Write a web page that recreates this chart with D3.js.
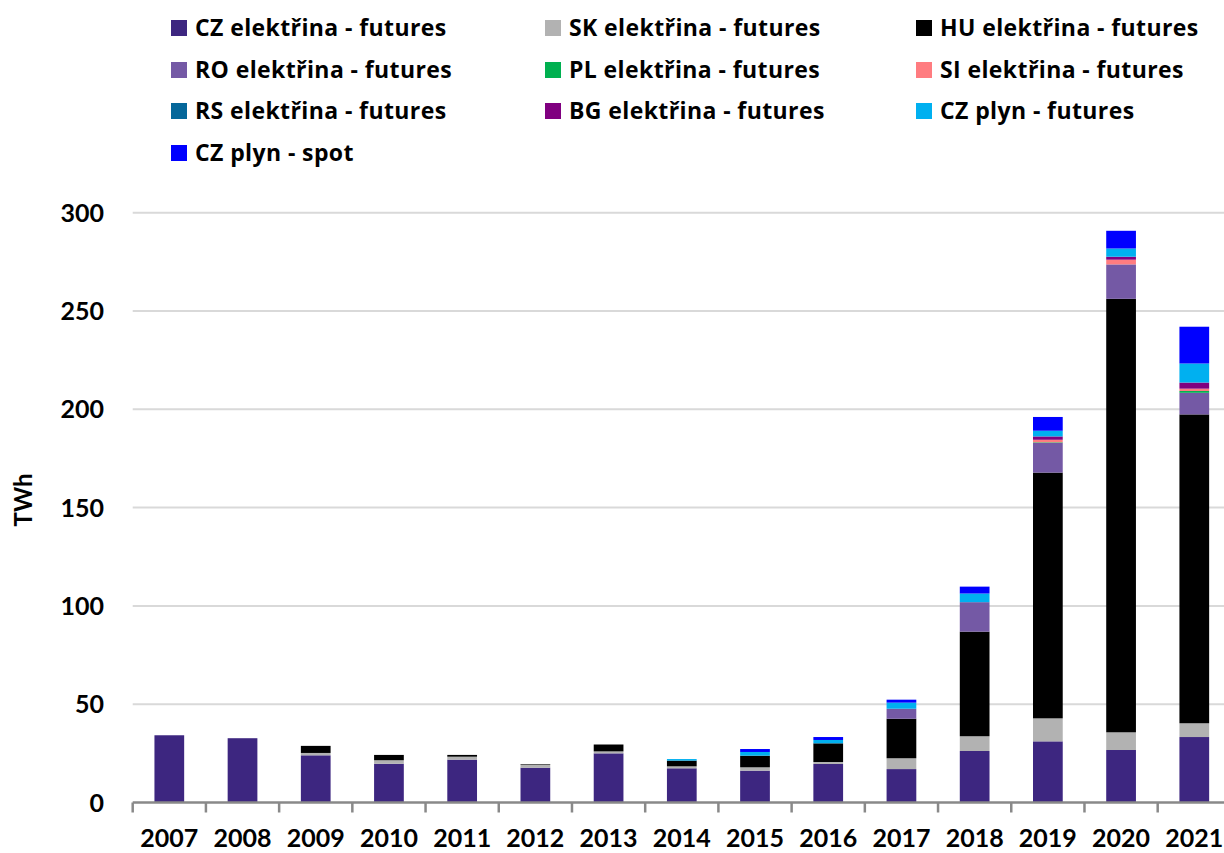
<!DOCTYPE html>
<html>
<head>
<meta charset="utf-8">
<script src="https://cdn.jsdelivr.net/npm/d3@7"></script>
<style>
  body { margin: 0; background: #fff; }
  svg { display: block; font-family: Lato, "Open Sans", sans-serif; font-weight: bold; }
</style>
</head>
<body>
<svg id="chart" width="1224" height="853"></svg>
<script>
// years on the x axis
const years = ["2007","2008","2009","2010","2011","2012","2013","2014","2015","2016","2017","2018","2019","2020","2021"];

// series, bottom of the stack first (TWh)
const seriesNames = [
  "CZ elektřina - futures", "SK elektřina - futures", "HU elektřina - futures",
  "RO elektřina - futures", "PL elektřina - futures", "SI elektřina - futures",
  "RS elektřina - futures", "BG elektřina - futures", "CZ plyn - futures",
  "CZ plyn - spot"
];
const seriesColors = ["#3d2680", "#b2b2b2", "#000000", "#7459a5", "#00b050", "#ff7c80", "#05679a", "#800080", "#00b0f0", "#0000ff"];

const czEl   = [34.2, 32.7, 24.0, 19.7, 21.8, 17.7, 25.0, 17.4, 16.2, 19.6, 17.0, 26.2, 31.1, 26.7, 33.3];
const skEl   = [0, 0, 1.2, 1.8, 1.5, 1.5, 1.0, 1.0, 1.7, 1.0, 5.5, 7.5, 11.7, 9.0, 7.0];
const huEl   = [0, 0, 3.6, 2.7, 0.9, 0.3, 3.5, 2.9, 5.9, 9.5, 20.1, 53.2, 125.0, 220.5, 157.1];
const roEl   = [0, 0, 0, 0, 0, 0, 0, 0, 0, 0, 5.1, 15.0, 15.1, 17.5, 11.0];
const plEl   = [0, 0, 0, 0, 0, 0, 0, 0, 0, 0, 0, 0, 0.3, 0, 0.9];
const siEl   = [0, 0, 0, 0, 0, 0, 0, 0, 0, 0, 0, 0, 1.3, 2.4, 1.2];
const rsEl   = [0, 0, 0, 0, 0, 0, 0, 0, 0, 0, 0, 0, 0, 0, 0];
const bgEl   = [0, 0, 0, 0, 0, 0, 0, 0, 0, 0, 0, 0, 1.7, 1.5, 3.1];
const czGasF = [0, 0, 0, 0, 0, 0, 0, 0.8, 1.9, 1.7, 3.1, 4.4, 2.9, 4.2, 9.7];
const czGasS = [0, 0, 0, 0, 0, 0, 0, 0, 1.5, 1.5, 1.5, 3.5, 7.0, 9.0, 18.7];

const yTicks = [0, 50, 100, 150, 200, 250, 300];

const seriesValues = [czEl, skEl, huEl, roEl, plEl, siEl, rsEl, bgEl, czGasF, czGasS];

// build table for d3.stack
const table = years.map((y, i) => {
  const row = {year: y};
  seriesNames.forEach((s, j) => row[s] = seriesValues[j][i]);
  return row;
});

const svg = d3.select("#chart");
const W = 1224;

const x = d3.scaleBand()
  .domain(years)
  .range([132.7, 1230.9])
  .padding(0);
const barW = x.bandwidth() * 0.406;

const y = d3.scaleLinear()
  .domain([0, 300])
  .range([802.5, 212.7]);

// gridlines
svg.append("g")
  .selectAll("line")
  .data(yTicks.filter(d => d > 0))
  .join("line")
  .attr("x1", 132.7)
  .attr("x2", W)
  .attr("y1", d => y(d))
  .attr("y2", d => y(d))
  .attr("stroke", "#d9d9d9")
  .attr("stroke-width", 2);

// stacked bars
const stack = d3.stack().keys(seriesNames)(table);
svg.append("g")
  .selectAll("g")
  .data(stack)
  .join("g")
  .attr("fill", (d, i) => seriesColors[i])
  .selectAll("rect")
  .data(d => d)
  .join("rect")
  .attr("x", d => x(d.data.year) + (x.bandwidth() - barW) / 2)
  .attr("width", barW)
  .attr("y", d => y(d[1]))
  .attr("height", d => y(d[0]) - y(d[1]));

// x axis line and ticks (ticks between categories)
const axisG = svg.append("g");
axisG.append("line")
  .attr("x1", 132.7).attr("x2", W)
  .attr("y1", y(0)).attr("y2", y(0))
  .attr("stroke", "#898989").attr("stroke-width", 2.5);
axisG.selectAll("line.tick")
  .data(years)
  .join("line")
  .attr("class", "tick")
  .attr("x1", d => x(d)).attr("x2", d => x(d))
  .attr("y1", y(0)).attr("y2", y(0) + 10)
  .attr("stroke", "#898989").attr("stroke-width", 2.5);

// x labels
svg.append("g")
  .selectAll("text")
  .data(years)
  .join("text")
  .attr("x", d => x(d) + x.bandwidth() / 2)
  .attr("y", 847)
  .attr("text-anchor", "middle")
  .attr("font-size", 25)
  .text(d => d);

// y labels
svg.append("g")
  .selectAll("text")
  .data(yTicks)
  .join("text")
  .attr("x", 104)
  .attr("y", d => y(d))
  .attr("dy", "0.36em")
  .attr("text-anchor", "end")
  .attr("font-size", 25)
  .text(d => d);

// y title
svg.append("text")
  .attr("transform", "translate(32,500) rotate(-90)")
  .attr("text-anchor", "middle")
  .attr("font-size", 24)
  .text("TWh");

// legend
const legendCols = [171, 545, 916];
const legendRows = [28, 70, 111, 153];
const leg = svg.append("g")
  .selectAll("g")
  .data(seriesNames)
  .join("g")
  .attr("transform", (d, i) => `translate(${legendCols[i % 3]},${legendRows[Math.floor(i / 3)]})`);
leg.append("rect")
  .attr("x", 0).attr("y", -8)
  .attr("width", 16).attr("height", 16)
  .attr("fill", (d, i) => seriesColors[i]);
leg.append("text")
  .attr("x", 24)
  .attr("dy", "0.36em")
  .attr("font-family", "'Open Sans', sans-serif")
  .attr("font-size", 23)
  .attr("letter-spacing", 0.4)
  .text(d => d);
</script>
</body>
</html>
